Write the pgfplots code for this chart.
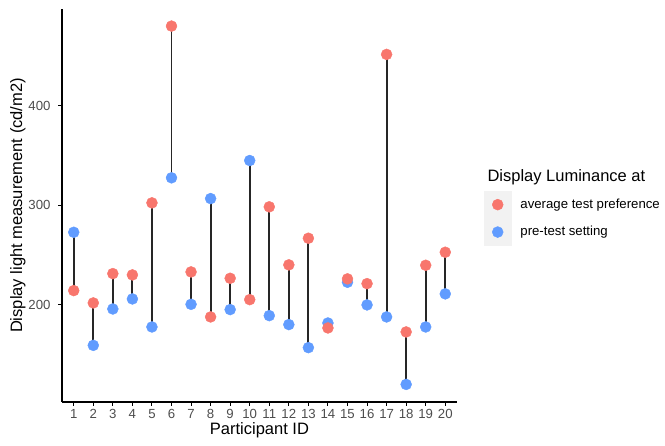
\documentclass[border=0pt]{standalone}
\usepackage{fontspec}
\setmainfont{Liberation Sans}
\usepackage{pgfplots}
\pgfplotsset{compat=1.18}
\usepackage{pgfplotstable}

\definecolor{myred}{HTML}{F8766D}
\definecolor{myblue}{HTML}{619CFF}
\definecolor{ticktext}{HTML}{4D4D4D}
\definecolor{keybg}{HTML}{F2F2F2}

% participant, average test preference, pre-test setting
\pgfplotstableread{
id pref pre
1  214.1 272.8
2  201.7 159.0
3  231.2 195.6
4  229.9 205.7
5  302.4 177.5
6  480.3 327.6
7  232.9 200.3
8  187.6 306.7
9  226.5 195.0
10 205.0 345.0
11 298.4 188.9
12 240.0 179.9
13 266.8 156.7
14 176.5 181.5
15 225.9 222.5
16 221.1 199.7
17 451.8 187.6
18 172.5 119.7
19 239.6 177.5
20 252.7 210.8
}\lumdata

\begin{document}
\begin{tikzpicture}
\useasboundingbox (0,0) rectangle (665pt,446pt);
\begin{axis}[
    at={(62pt,44pt)}, anchor=south west,
    scale only axis,
    width=395pt, height=393pt,
    xmin=0.4, xmax=20.6,
    ymin=102, ymax=497.5,
    xtick={1,...,20},
    ytick={200,300,400},
    axis lines=left,
    axis line style={-, black, line width=1.1pt},
    tick align=outside,
    tick pos=left,
    major tick length=4pt,
    tick style={black, line width=1pt},
    ticklabel style={font=\fontsize{13.2}{15}\selectfont, text=ticktext},
    yticklabel style={xshift=-4pt},
    /pgf/number format/assume math mode=true,
    /pgf/number format/1000 sep={},
    xlabel={Participant ID},
    ylabel={Display light measurement (cd/m2)},
    label style={font=\fontsize{16.5}{19}\selectfont},
    xlabel style={yshift=3pt},
    ylabel style={yshift=-4pt},
    legend style={at={(1.0684,0.537)}, anchor=north west,
        draw=none, fill=none, inner sep=0pt, outer sep=0pt,
        row sep=0pt, column sep=9pt,
        nodes={inner sep=0pt, anchor=base west},
        font=\fontsize{13.2}{15}\selectfont},
    legend cell align=left,
    clip=false,
]
\addlegendimage{legend image code/.code={
    \fill[keybg] (0pt,-10pt) rectangle (27pt,17pt);
    \fill[myred] (13.5pt,3.5pt) circle (5.5pt);}}
\addlegendentry{average test preference}
\addlegendimage{legend image code/.code={
    \fill[keybg] (0pt,-10pt) rectangle (27pt,17pt);
    \fill[myblue] (13.5pt,3.5pt) circle (5.5pt);}}
\addlegendentry{pre-test setting}

\addplot[only marks, mark=none, forget plot,
    error bars/.cd, y dir=both, y explicit, error mark=none,
    error bar style={solid, draw=black!85, line width=1.8pt}]
    table[x=id, y=pref,
          y error plus expr={max(\thisrow{pre}-\thisrow{pref},0)},
          y error minus expr={max(\thisrow{pref}-\thisrow{pre},0)}] {\lumdata};
\addplot[only marks, mark=*, mark size=5.5pt, color=myblue, forget plot]
    table[x=id, y=pre] {\lumdata};
\addplot[only marks, mark=*, mark size=5.5pt, color=myred, forget plot]
    table[x=id, y=pref] {\lumdata};
\end{axis}
\node[anchor=base west, font=\fontsize{16.5}{19}\selectfont] at (484pt,264pt) {Display Luminance at};
\end{tikzpicture}
\end{document}
